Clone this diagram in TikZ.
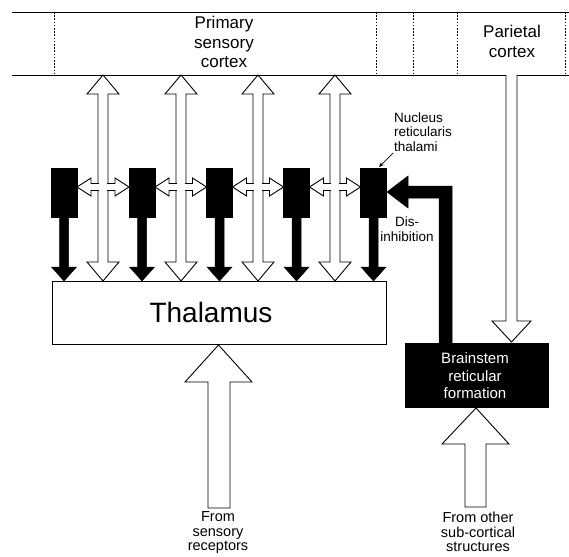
\documentclass[tikz,border=0pt]{standalone}
\usepackage{fontspec}
\setmainfont{Liberation Sans}
\usetikzlibrary{arrows.meta}
\tikzset{
  ln/.style={line width=0.9pt, draw=black},
  wa/.style={line width=0.9pt, draw=black, fill=white, line join=miter},
  ba/.style={fill=black, draw=black, line width=0.5pt},
  dsh/.style={line width=0.8pt, dash pattern=on 1.6pt off 1.6pt},
  blk/.style={fill=black, draw=black, minimum width=26pt, minimum height=49pt, inner sep=0pt},
  lbl/.style={inner sep=0pt, align=center},
}
% vertical white double arrow: x, ytop, ybot
\newcommand\vdarr[3]{%
  \filldraw[wa] (#1,#2) -- ({#1+16},{#2+19}) -- ({#1+5},{#2+19}) -- ({#1+5},{#3-19}) --
   ({#1+16},{#3-19}) -- (#1,#3) -- ({#1-16},{#3-19}) -- ({#1-5},{#3-19}) --
   ({#1-5},{#2+19}) -- ({#1-16},{#2+19}) -- cycle;}
% horizontal white double arrow: xl, xr, y
\newcommand\hdarr[3]{%
  \filldraw[wa] (#1,#3) -- ({#1+14},{#3-9}) -- ({#1+14},{#3-3.5}) -- ({#2-14},{#3-3.5}) --
   ({#2-14},{#3-9}) -- (#2,#3) -- ({#2-14},{#3+9}) -- ({#2-14},{#3+3.5}) --
   ({#1+14},{#3+3.5}) -- ({#1+14},{#3+9}) -- cycle;}
% open the crossing: x of vertical, y of horizontal
\newcommand\xopen[2]{%
  \fill[white] ({#1-6},{#2-2.9}) rectangle ({#1+6},{#2+2.9});
  \fill[white] ({#1-4.4},{#2-4.5}) rectangle ({#1+4.4},{#2+4.5});}
% black down arrow: x, ytop, ybot
\newcommand\bdarr[3]{%
  \filldraw[ba] ({#1-4.5},#2) -- ({#1+4.5},#2) -- ({#1+4.5},{#3-14}) -- ({#1+12.5},{#3-14}) --
   (#1,#3) -- ({#1-12.5},{#3-14}) -- ({#1-4.5},{#3-14}) -- cycle;}
\begin{document}
\begin{tikzpicture}[x=1pt,y=-1pt]
\useasboundingbox (0,0) rectangle (569,556);
% cortex band
\draw[ln] (12,12) -- (569,12);
\draw[ln] (12,75) -- (506,75);
\draw[ln] (517,75) -- (569,75);
\foreach \xx in {54,376,413,457,565} \draw[dsh] (\xx,12) -- (\xx,75);
\node[lbl, font=\fontsize{17}{19.5}\selectfont] (psc) at (224,42) {Primary\\sensory\\cortex};
\node[lbl, font=\fontsize{17}{20}\selectfont] (par) at (512,41) {Parietal\\cortex};
% thalamus
\node[draw, line width=0.9pt, minimum width=334pt, minimum height=63pt, inner sep=0pt] (thal) at (219,312.5) {};
\node[lbl, font=\fontsize{28}{30}\selectfont] (thallbl) at (211,312) {Thalamus};
% blocks
\node[blk] (n1) at (64,193) {};
\node[blk] (n2) at (142,193) {};
\node[blk] (n3) at (219.5,193) {};
\node[blk] (n4) at (296.5,193) {};
\node[blk] (n5) at (373.5,193) {};
% vertical double arrows
\vdarr{103}{75}{281}
\vdarr{181}{75}{281}
\vdarr{258}{75}{281}
\vdarr{335}{75}{281}
% horizontal double arrows
\hdarr{77}{129}{187}
\hdarr{155}{206.5}{187}
\hdarr{232.5}{283.5}{187}
\hdarr{309.5}{360.5}{187}
\xopen{103}{187}
\xopen{181}{187}
\xopen{258}{187}
\xopen{335}{187}
% black down arrows
\bdarr{64}{217}{281}
\bdarr{142}{217}{281}
\bdarr{219.5}{217}{281}
\bdarr{296.5}{217}{281}
\bdarr{373.5}{217}{281}
% brainstem
\node[fill=black, draw=black, minimum width=143pt, minimum height=64pt, inner sep=0pt] (bs) at (476.5,375) {};
\node[lbl, text=white, font=\fontsize{15}{17.5}\selectfont] (bslbl) at (475,376) {Brainstem\\reticular\\formation};
% parietal arrow
\filldraw[wa] (506,75) -- (506,321) -- (492,321) -- (511.5,342) -- (531,321) -- (517,321) -- (517,75);
% black L arrow (dis-inhibition)
\filldraw[ba] (452,343) -- (452,186) -- (408,186) -- (408,176) -- (387,192) -- (408,208) -- (408,198) -- (439,198) -- (439,343) -- cycle;
\node[lbl, font=\fontsize{13.5}{15}\selectfont] (dis) at (407,229.5) {Dis-\\inhibition};
% nucleus reticularis label
\node[inner sep=0pt, align=left, anchor=west, font=\fontsize{13.5}{14.5}\selectfont] (nrt) at (394,132) {Nucleus\\reticularis\\thalami};
\coordinate (nrtp) at (393,153);
\coordinate (n5p) at (379,167);
\draw[line width=0.7pt, -{Stealth[length=5pt,width=4pt]}] (nrtp) -- (n5p);
% sensory arrow
\filldraw[wa] (208,508) -- (208,382) -- (185,382) -- (218.5,345) -- (252,382) -- (230,382) -- (230,508) -- cycle;
\node[lbl, font=\fontsize{14.5}{14.5}\selectfont] (fsr) at (218,533) {From\\sensory\\receptors};
% subcortical arrow
\filldraw[wa] (465,507) -- (465,444) -- (442,444) -- (476,408) -- (509,444) -- (486,444) -- (486,507) -- cycle;
\node[lbl, font=\fontsize{14.5}{14.5}\selectfont] (fos) at (478,532) {From other\\sub-cortical\\structures};
\end{tikzpicture}
\end{document}
